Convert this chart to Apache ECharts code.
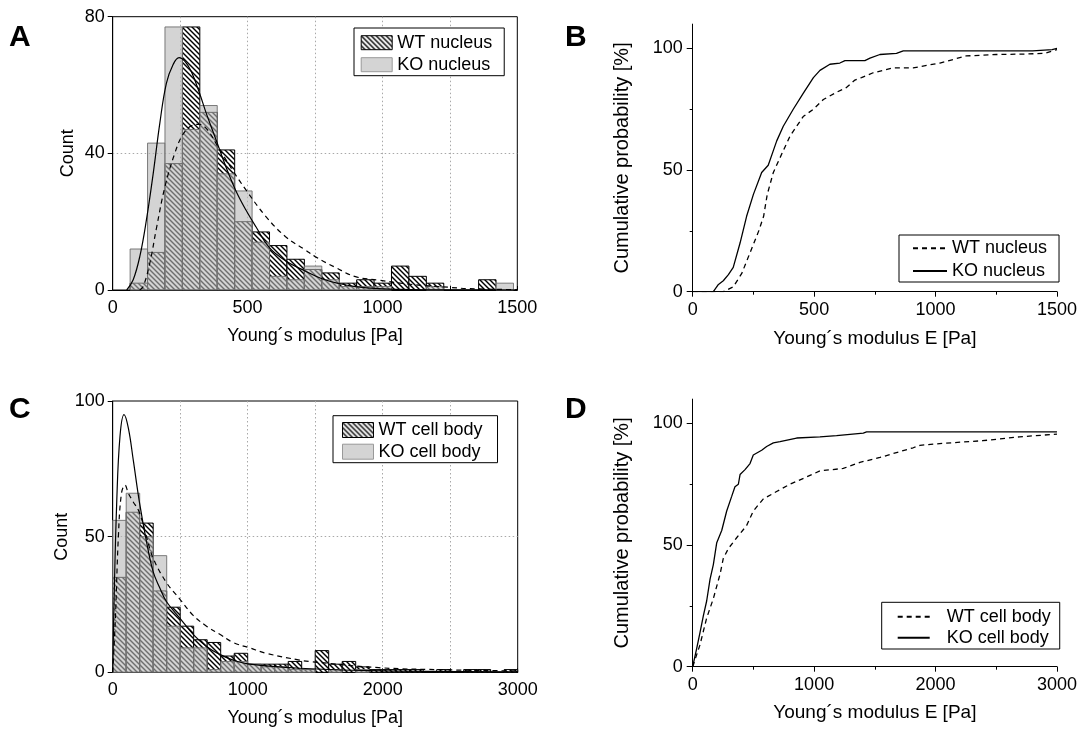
<!DOCTYPE html>
<html><head><meta charset="utf-8">
<script src="https://cdn.jsdelivr.net/npm/echarts@6/dist/echarts.min.js"></script>
<style>html,body{margin:0;padding:0;background:#fff}#c{width:1080px;height:731px}</style>
</head><body><div id="c"></div>
<script>
// ---------- DATA ----------
// Panel A: nucleus histograms (bin width in Pa, counts per bin starting at 0)
const binWidthA = 64.6;
const wtNucleusCounts = [0, 2, 11, 37, 77, 52, 41, 20, 17, 13, 9, 6, 5, 2, 3, 2, 7, 4, 2, 0, 0, 3, 0];
const koNucleusCounts = [0, 12, 43, 77, 47, 54, 34, 29, 14, 4, 3, 7, 3, 1, 1, 1, 0, 0, 1, 0, 0, 0, 2];
// Panel A fits
const fitAkoX = [52, 76, 101, 125, 150, 175, 199, 224, 246, 267, 291, 322, 347, 383, 420, 457, 494, 531, 580, 642, 715, 776, 838, 900, 985, 1100, 1250, 1500];
const fitAkoY = [0, 3, 10, 20.5, 34, 49, 60.5, 66, 68, 67, 64, 57.6, 51.7, 44, 36, 29, 23.4, 18.5, 12.5, 8.5, 5.5, 3.3, 1.9, 1.0, 0.4, 0.15, 0.05, 0];
const fitAwtX = [100, 113, 138, 162, 193, 230, 260, 290, 320, 350, 390, 445, 494, 568, 641, 715, 752, 826, 900, 986, 1100, 1245, 1320, 1500];
const fitAwtY = [0, 1, 8, 18, 30, 40, 45.5, 48, 48.5, 47, 42, 35, 29.3, 21.5, 15.6, 11.7, 9.7, 6.6, 3.9, 2.9, 1.7, 0.8, 0.4, 0.1];

// Panel C: cell body histograms
const binWidthC = 100;
const wtCellCounts = [35, 59, 55, 30, 24, 17, 12, 11, 6, 7, 3, 3, 3, 4, 1, 8, 3, 4, 2, 1, 1, 1, 1, 0, 1, 0, 1, 1, 0, 1];
const koCellCounts = [56, 66, 50, 43, 17, 9, 9, 1, 4, 4, 3, 2, 2, 1, 1, 0, 1, 0, 1, 0, 0, 0, 0, 0, 0, 0, 0, 0, 0, 0];
// Panel C fits
const fitCkoX = [0, 10, 30, 54, 84, 116, 153, 197, 251, 300, 350, 399, 497, 596, 695, 793, 892, 1015, 1384, 2000, 3000];
const fitCkoY = [0, 26, 63, 87, 95, 90, 78, 63, 48, 37, 31, 26, 20, 14, 9.5, 6.6, 4.5, 3, 1.5, 0.5, 0.2];
const fitCwtX = [0, 20, 42, 65, 91, 116, 150, 197, 250, 300, 399, 497, 596, 695, 793, 892, 1015, 1138, 1384, 1455, 1971, 2488, 3000];
const fitCwtY = [0, 20, 50, 66, 69, 66, 63, 59, 50, 42, 33, 27, 21, 17, 14, 11, 9, 7, 4.5, 4, 1.7, 0.9, 0.5];

// Panel B: cumulative probability, nucleus
const cdfBkoX = [0, 85, 106, 126, 147, 167, 195, 222, 250, 284, 311, 332, 346, 373, 414, 455, 497, 524, 565, 606, 627, 709, 730, 771, 839, 867, 1018, 1400, 1480, 1500];
const cdfBkoY = [0, 0, 3, 4.5, 7, 10, 20, 31, 40, 49, 52, 58, 62, 68, 75, 81.5, 88, 91, 93.5, 94, 95, 95, 96, 97.5, 98, 99, 99, 99, 99.5, 100];
const cdfBwtX = [0, 126, 167, 202, 236, 272, 292, 307, 332, 373, 401, 455, 497, 538, 593, 634, 668, 695, 743, 785, 826, 908, 963, 1018, 1126, 1250, 1373, 1450, 1500];
const cdfBwtY = [0, 0, 2, 7.5, 16, 25, 31, 40, 49, 58, 64, 72, 75, 79, 82, 84, 87, 88, 90, 91, 92, 92, 93, 94, 96.9, 97.5, 97.7, 98, 99.5];

// Panel D: cumulative probability, cell body
const cdfDkoX = [0, 33, 60, 88, 115, 143, 170, 198, 239, 280, 321, 348, 376, 390, 431, 472, 499, 568, 609, 664, 719, 856, 1048, 1185, 1405, 1432, 3000];
const cdfDkoY = [0, 7.5, 14, 21, 27, 36, 42, 51, 56, 64, 70, 74, 75, 79, 81, 83.5, 87, 89, 90.5, 92, 92.5, 94, 94.5, 95, 96, 96.5, 96.5];
const cdfDwtX = [0, 60, 115, 170, 225, 252, 294, 362, 444, 499, 582, 691, 801, 938, 1048, 1240, 1377, 1542, 1705, 1816, 1871, 2059, 2388, 2692, 3000];
const cdfDwtY = [0, 9, 20, 28, 38, 44.5, 48.6, 53, 58, 64, 69, 72, 75, 78, 80.5, 81.5, 84, 86, 88.4, 90, 91, 91.8, 92.9, 94.5, 95.6];

// ---------- STYLE HELPERS ----------
const FONT = "'Liberation Sans', Arial, sans-serif";
function makeHatch() {
  const s = 5;
  const cv = document.createElement('canvas');
  cv.width = s; cv.height = s;
  const g = cv.getContext('2d');
  g.fillStyle = '#fff'; g.fillRect(0, 0, s, s);
  g.strokeStyle = '#000'; g.lineWidth = 1.4;
  for (let k = -1; k <= 1; k++) {
    g.beginPath(); g.moveTo(-s, -s + k * s); g.lineTo(2 * s, 2 * s + k * s); g.stroke();
  }
  return cv;
}
const hatch = { image: makeHatch(), repeat: 'repeat' };
const koFill = 'rgba(183,183,183,0.6)';
const koStroke = 'rgba(110,110,110,0.9)';

const zip = (xs, ys) => xs.map((x, i) => [x, ys[i]]);

function histSeries(name, counts, bw, idx, fill, stroke) {
  return {
    type: 'custom', name: name, xAxisIndex: idx, yAxisIndex: idx, z: 2,
    itemStyle: { color: fill, borderColor: stroke, borderWidth: 1 },
    data: counts.map((c, i) => [i * bw, (i + 1) * bw, c]),
    encode: { x: [0, 1], y: 2 },
    renderItem: function (params, api) {
      const c = api.value(2);
      if (!c) return null;
      const p0 = api.coord([api.value(0), c]);
      const p1 = api.coord([api.value(1), 0]);
      return {
        type: 'rect',
        shape: { x: p0[0], y: p0[1], width: p1[0] - p0[0], height: p1[1] - p0[1] },
        style: { fill: fill, stroke: stroke, lineWidth: 1 }
      };
    }
  };
}
function lineSeries(name, xs, ys, idx, dashed, smooth, width) {
  return {
    type: 'line', name: name, xAxisIndex: idx, yAxisIndex: idx, z: 5,
    data: zip(xs, ys), smooth: smooth, symbol: 'none', showSymbol: false,
    lineStyle: { color: '#000', width: width, type: dashed ? [5, 4] : 'solid' },
    itemStyle: { color: '#000' }
  };
}
const dotted = { show: true, showMinLine: false, showMaxLine: false, lineStyle: { color: '#a8a8a8', type: [1.5, 2.5], width: 1 } };
const blackLine = { show: true, lineStyle: { color: '#000', width: 1 } };
const lbl = (extra) => Object.assign({ color: '#000', fontSize: 18, fontFamily: FONT }, extra);
const plain = v => String(v);
const letter = (t, l, tp) => ({ text: t, left: l, top: tp, padding: 0,
  textStyle: { fontSize: 30, fontWeight: 'bold', color: '#000', fontFamily: FONT } });

// ---------- CHART ----------
const chart = echarts.init(document.getElementById('c'), null, { renderer: 'canvas' });
const option = {
  backgroundColor: '#fff',
  animation: false,
  textStyle: { fontFamily: FONT },
  title: [letter('A', 9, 23), letter('B', 565, 23), letter('C', 9, 395), letter('D', 565, 395)],
  grid: [
    { left: 112.7, top: 16.7, width: 404.6, height: 273.3, show: true, borderColor: '#000', borderWidth: 1, backgroundColor: 'transparent' },
    { left: 692.7, top: 24.1, width: 365, height: 267.6 },
    { left: 112.7, top: 401, width: 405, height: 271.3, show: true, borderColor: '#000', borderWidth: 1, backgroundColor: 'transparent' },
    { left: 692.7, top: 399.1, width: 365, height: 267.6 }
  ],
  xAxis: [
    { gridIndex: 0, type: 'value', min: 0, max: 1500, interval: 250, axisLine: blackLine,
      axisTick: { inside: true, length: 4, lineStyle: { color: '#000' } },
      axisLabel: lbl({ margin: 9, formatter: v => (v % 500 === 0 ? String(v) : '') }),
      splitLine: dotted,
      name: 'Young´s modulus [Pa]', nameLocation: 'middle', nameGap: 37,
      nameTextStyle: { fontSize: 18, color: '#000', fontFamily: FONT } },
    { gridIndex: 1, type: 'value', min: 0, max: 1500, interval: 500, axisLine: blackLine,
      axisTick: { length: 5, lineStyle: { color: '#000' } },
      axisLabel: lbl({ margin: 9, formatter: plain }), splitLine: { show: false },
      name: 'Young´s modulus E [Pa]', nameLocation: 'middle', nameGap: 38,
      nameTextStyle: { fontSize: 19, color: '#000', fontFamily: FONT } },
    { gridIndex: 2, type: 'value', min: 0, max: 3000, interval: 500, axisLine: blackLine,
      axisTick: { inside: true, length: 4, lineStyle: { color: '#000' } },
      axisLabel: lbl({ margin: 9, formatter: v => (v % 1000 === 0 ? String(v) : '') }),
      splitLine: dotted,
      name: 'Young´s modulus [Pa]', nameLocation: 'middle', nameGap: 37,
      nameTextStyle: { fontSize: 18, color: '#000', fontFamily: FONT } },
    { gridIndex: 3, type: 'value', min: 0, max: 3000, interval: 1000, axisLine: blackLine,
      axisTick: { length: 5, lineStyle: { color: '#000' } },
      axisLabel: lbl({ margin: 9, formatter: plain }), splitLine: { show: false },
      name: 'Young´s modulus E [Pa]', nameLocation: 'middle', nameGap: 37,
      nameTextStyle: { fontSize: 19, color: '#000', fontFamily: FONT } },
    // minor tick axes for B and D
    { gridIndex: 1, type: 'value', min: 0, max: 1500, interval: 250, position: 'bottom', offset: 0,
      axisLine: { show: false }, axisLabel: { show: false }, splitLine: { show: false },
      axisTick: { length: 3, customValues: [250, 750, 1250], lineStyle: { color: '#000' } } },
    { gridIndex: 3, type: 'value', min: 0, max: 3000, interval: 500, position: 'bottom', offset: 0,
      axisLine: { show: false }, axisLabel: { show: false }, splitLine: { show: false },
      axisTick: { length: 3, customValues: [500, 1500, 2500], lineStyle: { color: '#000' } } }
  ],
  yAxis: [
    { gridIndex: 0, type: 'value', min: 0, max: 80, interval: 20, axisLine: blackLine,
      axisTick: { length: 5, customValues: [0, 40, 80], lineStyle: { color: '#000' } },
      axisLabel: lbl({ margin: 8, customValues: [0, 40, 80], formatter: v => (v % 40 === 0 ? String(v) : '') }),
      splitLine: dotted,
      name: 'Count', nameLocation: 'middle', nameGap: 36,
      nameTextStyle: { fontSize: 18, color: '#000', fontFamily: FONT } },
    { gridIndex: 1, type: 'value', min: 0, max: 110, interval: 50, axisLine: blackLine,
      axisTick: { length: 6, customValues: [0, 50, 100], lineStyle: { color: '#000' } },
      axisLabel: lbl({ margin: 10, customValues: [0, 50, 100], formatter: v => (v % 50 === 0 ? String(v) : '') }),
      splitLine: { show: false },
      name: 'Cumulative probability [%]', nameLocation: 'middle', nameGap: 60,
      nameTextStyle: { fontSize: 20, color: '#000', fontFamily: FONT } },
    { gridIndex: 2, type: 'value', min: 0, max: 100, interval: 25, axisLine: blackLine,
      axisTick: { length: 5, customValues: [0, 50, 100], lineStyle: { color: '#000' } },
      axisLabel: lbl({ margin: 8, customValues: [0, 50, 100], formatter: v => (v % 50 === 0 ? String(v) : '') }),
      splitLine: dotted,
      name: 'Count', nameLocation: 'middle', nameGap: 36,
      nameTextStyle: { fontSize: 18, color: '#000', fontFamily: FONT } },
    { gridIndex: 3, type: 'value', min: 0, max: 110, interval: 50, axisLine: blackLine,
      axisTick: { length: 6, customValues: [0, 50, 100], lineStyle: { color: '#000' } },
      axisLabel: lbl({ margin: 10, customValues: [0, 50, 100], formatter: v => (v % 50 === 0 ? String(v) : '') }),
      splitLine: { show: false },
      name: 'Cumulative probability [%]', nameLocation: 'middle', nameGap: 60,
      nameTextStyle: { fontSize: 20, color: '#000', fontFamily: FONT } },
    { gridIndex: 1, type: 'value', min: 0, max: 110, interval: 25, position: 'left', offset: 0,
      axisLine: { show: false }, axisLabel: { show: false }, splitLine: { show: false },
      axisTick: { length: 3, customValues: [25, 75], lineStyle: { color: '#000' } } },
    { gridIndex: 3, type: 'value', min: 0, max: 110, interval: 25, position: 'left', offset: 0,
      axisLine: { show: false }, axisLabel: { show: false }, splitLine: { show: false },
      axisTick: { length: 3, customValues: [25, 75], lineStyle: { color: '#000' } } }
  ],
  legend: [
    { left: 354, top: 28, orient: 'vertical', padding: [4.7, 12, 1, 6.7], itemGap: 2,
      itemWidth: 31, itemHeight: 14, borderColor: '#000', borderWidth: 1, backgroundColor: '#fff',
      textStyle: { fontSize: 18, lineHeight: 20, color: '#000', fontFamily: FONT },
      data: [
        { name: 'WT nucleus', icon: 'rect', itemStyle: { color: hatch, borderColor: '#000', borderWidth: 1 } },
        { name: 'KO nucleus', icon: 'rect', itemStyle: { color: '#d4d4d4', borderColor: '#999', borderWidth: 1 } }
      ] },
    { left: 333, top: 415.7, orient: 'vertical', padding: [4.3, 15, 1, 9], itemGap: 1.7,
      itemWidth: 31, itemHeight: 15, borderColor: '#000', borderWidth: 1, backgroundColor: '#fff',
      textStyle: { fontSize: 18, lineHeight: 20, color: '#000', fontFamily: FONT },
      data: [
        { name: 'WT cell body', icon: 'rect', itemStyle: { color: hatch, borderColor: '#000', borderWidth: 1 } },
        { name: 'KO cell body', icon: 'rect', itemStyle: { color: '#d4d4d4', borderColor: '#999', borderWidth: 1 } }
      ] },
    { left: 899, top: 235, orient: 'vertical', padding: [3.3, 12, 1, 13], itemGap: 2.7,
      itemWidth: 34, itemHeight: 14, borderColor: '#000', borderWidth: 1, backgroundColor: '#fff',
      itemStyle: { opacity: 0 },
      textStyle: { fontSize: 18, lineHeight: 20, color: '#000', fontFamily: FONT },
      formatter: n => n.replace(' (cdf)', ''),
      data: ['WT nucleus (cdf)', 'KO nucleus (cdf)'] },
    { left: 881.7, top: 602.3, orient: 'vertical', padding: [4.4, 9, 1.3, 15], itemGap: 1,
      itemWidth: 32, itemHeight: 14, borderColor: '#000', borderWidth: 1, backgroundColor: '#fff',
      itemStyle: { opacity: 0 },
      textStyle: { fontSize: 18, lineHeight: 20, color: '#000', fontFamily: FONT, padding: [0, 0, 0, 12] },
      formatter: n => n.replace(' (cdf)', ''),
      data: ['WT cell body (cdf)', 'KO cell body (cdf)'] }
  ],
  series: [
    histSeries('WT nucleus', wtNucleusCounts, binWidthA, 0, hatch, '#000'),
    histSeries('KO nucleus', koNucleusCounts, binWidthA, 0, koFill, koStroke),
    lineSeries('WT nucleus fit', fitAwtX, fitAwtY, 0, true, 0.4, 1.2),
    lineSeries('KO nucleus fit', fitAkoX, fitAkoY, 0, false, 0.4, 1.2),
    lineSeries('WT nucleus (cdf)', cdfBwtX, cdfBwtY, 1, true, false, 1.3),
    lineSeries('KO nucleus (cdf)', cdfBkoX, cdfBkoY, 1, false, false, 1.3),
    histSeries('WT cell body', wtCellCounts, binWidthC, 2, hatch, '#000'),
    histSeries('KO cell body', koCellCounts, binWidthC, 2, koFill, koStroke),
    lineSeries('WT cell body fit', fitCwtX, fitCwtY, 2, true, 0.4, 1.2),
    lineSeries('KO cell body fit', fitCkoX, fitCkoY, 2, false, 0.4, 1.2),
    lineSeries('WT cell body (cdf)', cdfDwtX, cdfDwtY, 3, true, false, 1.3),
    lineSeries('KO cell body (cdf)', cdfDkoX, cdfDkoY, 3, false, false, 1.3)
  ]
};
chart.setOption(option);
</script>
</body></html>
